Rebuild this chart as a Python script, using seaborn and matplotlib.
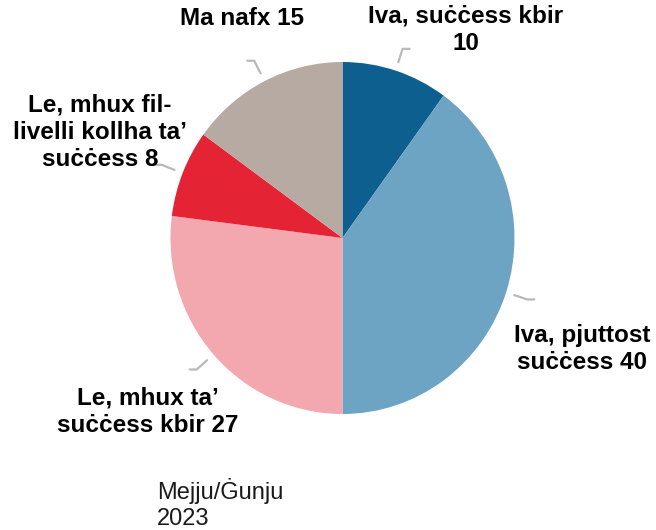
import numpy as np
import matplotlib
matplotlib.use('Agg')
import matplotlib.pyplot as plt
import seaborn as sns

sns.set_theme(style='white')
plt.rcParams['font.family'] = ['Liberation Sans', 'DejaVu Sans']

# data (clockwise from 12 o'clock)
categories = ['Iva, suċċess kbir', 'Iva, pjuttost suċċess', 'Le, mhux ta’ suċċess kbir',
              'Le, mhux fil-livelli kollha ta’ suċċess', 'Ma nafx']
values = [10, 40, 27, 8, 15]
labels = ['Iva, suċċess kbir\n10', 'Iva, pjuttost\nsuċċess 40', 'Le, mhux ta’\nsuċċess kbir 27',
          'Le, mhux fil-\nlivelli kollha ta’\nsuċċess 8', 'Ma nafx 15']
colors = ['#0d5f8f', '#6da3c3', '#f3a7ae', '#e42435', '#b7aaa2']
period = 'Mejju/Ġunju\n2023'

W, H = 656, 530
# the pie in the reference is a touch taller than wide
sy = 172 / 176

fig = plt.figure(figsize=(W / 100, H / 100), dpi=100)
ax = fig.add_axes([0, 0, 1, 1])


def Y(py):
    # pixel row from top -> data y
    return (H - py) * sy


cx, cy, R = 342.5, Y(238), 172
ax.pie(values, colors=colors, startangle=90, counterclock=False,
       center=(cx, cy), radius=R, frame=True,
       wedgeprops=dict(linewidth=0))
ax.set_aspect('auto')
ax.set_xlim(0, W)
ax.set_ylim(0, H * sy)
ax.axis('off')

# leader lines
cum = np.cumsum([0] + values)
total = sum(values)
for i in range(len(values)):
    mid = np.deg2rad((cum[i] + cum[i + 1]) / 2 / total * 360)
    dx, dy = np.sin(mid), np.cos(mid)
    x1, y1 = cx + 1.05 * R * dx, cy + 1.05 * R * dy
    x2, y2 = cx + 1.13 * R * dx, cy + 1.13 * R * dy
    x3 = x2 + 7 * np.sign(dx)
    ax.plot([x1, x2, x3], [y1, y2, y2], color='#b9b9b9', lw=1.6,
            solid_capstyle='round', solid_joinstyle='round')

# label positions (pixel coords, y from top)
label_pos = [(466, 30), (582, 349), (148, 412), (100, 132), (242, 18)]
for lab, (px, py) in zip(labels, label_pos):
    ax.text(px, Y(py), lab, ha='center', va='center', fontsize=17.5,
            fontweight='bold', color='black', linespacing=1.25)

ax.text(157, Y(504), period, ha='left', va='center', fontsize=17,
        color='#1a1a1a', linespacing=1.2)

fig.savefig('out.png', dpi=100)
